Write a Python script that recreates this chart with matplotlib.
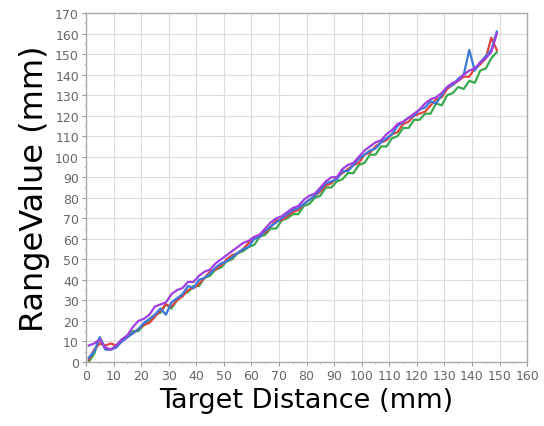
import matplotlib
matplotlib.use("Agg")
import matplotlib.pyplot as plt
from matplotlib.ticker import MultipleLocator

# Target distance (mm)
distance = list(range(1, 150, 2))

purple = [8, 9, 11, 7, 6, 8, 11, 13, 17, 20,
          21, 23, 27, 28, 29, 33, 35, 36, 39, 39,
          42, 44, 45, 48, 50, 52, 54, 56, 58, 59,
          61, 62, 65, 68, 70, 71, 73, 75, 76, 79,
          81, 82, 85, 88, 90, 90, 94, 96, 97, 100,
          103, 105, 107, 108, 111, 113, 116, 117, 119, 121,
          123, 126, 128, 129, 131, 134, 136, 137, 140, 142,
          143, 146, 148, 151, 160]

blue = [2, 5, 12, 6, 6, 7, 10, 12, 14, 16,
        19, 21, 23, 26, 23, 29, 31, 33, 37, 36,
        40, 41, 43, 46, 48, 49, 51, 53, 55, 56,
        60, 61, 64, 66, 68, 70, 72, 74, 75, 77,
        79, 81, 84, 87, 88, 89, 93, 93, 96, 99,
        101, 103, 104, 107, 109, 111, 115, 117, 119, 120,
        123, 124, 127, 126, 130, 134, 135, 138, 140, 152,
        142, 146, 149, 152, 161]

red = [1, 6, 9, 8, 9, 8, 10, 12, 14, 16,
       18, 19, 22, 25, 28, 27, 30, 32, 35, 36,
       38, 41, 44, 45, 47, 50, 52, 53, 55, 58,
       60, 62, 63, 66, 69, 69, 71, 73, 74, 77,
       79, 81, 83, 86, 87, 90, 92, 94, 96, 97,
       101, 102, 105, 107, 108, 111, 112, 116, 117, 120,
       121, 122, 125, 128, 129, 133, 135, 137, 139, 139,
       143, 145, 148, 158, 152]

green = [0, 4, 12, 7, 6, 8, 11, 12, 15, 15,
         18, 20, 23, 24, 28, 26, 30, 33, 34, 37,
         37, 41, 42, 45, 46, 49, 50, 53, 54, 56,
         57, 61, 62, 65, 65, 69, 70, 72, 72, 76,
         77, 80, 81, 85, 85, 88, 89, 92, 92, 96,
         97, 101, 101, 105, 105, 109, 110, 114, 114, 118,
         118, 121, 121, 126, 125, 130, 131, 134, 133, 137,
         136, 142, 143, 148, 151]

fig = plt.figure(figsize=(5.44, 4.27), dpi=100)
ax = fig.add_axes([0.158, 0.150, 0.811, 0.817])

ax.plot(distance, green, color="#3aa84c", lw=1.6)
ax.plot(distance, red, color="#e0453f", lw=1.6)
ax.plot(distance, blue, color="#3b78d8", lw=1.6)
ax.plot(distance, purple, color="#a03ee0", lw=1.6)

ax.set_xlim(0, 160)
ax.set_ylim(0, 170)
ax.xaxis.set_major_locator(MultipleLocator(10))
ax.yaxis.set_major_locator(MultipleLocator(10))
ax.xaxis.set_minor_locator(MultipleLocator(5))
ax.yaxis.set_minor_locator(MultipleLocator(5))
ax.grid(True, which="major", color="#dddddd", lw=0.8)
ax.set_axisbelow(True)
for s in ax.spines.values():
    s.set_color("#aaaaaa")
    s.set_linewidth(1.0)
ax.tick_params(which="major", length=3, color="#999999", labelcolor="#666666", labelsize=9, pad=2)
ax.tick_params(which="minor", length=1.5, color="#bbbbbb")

ax.set_xlabel("Target Distance (mm)", fontsize=19.5, labelpad=4)
ax.set_ylabel("RangeValue (mm)", fontsize=23, labelpad=4)

fig.savefig("out.png", dpi=100)
